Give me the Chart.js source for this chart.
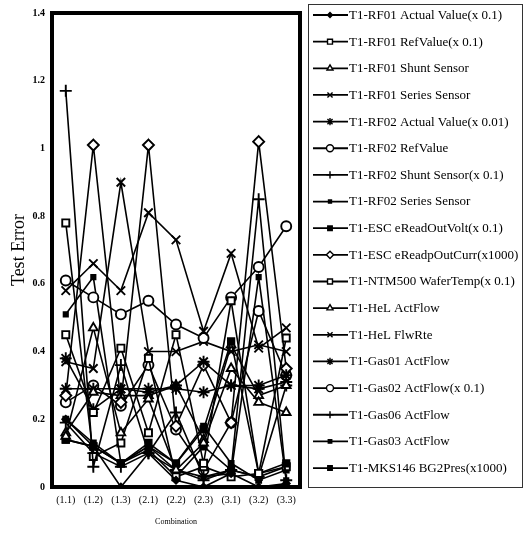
<!DOCTYPE html>
<html>
<head>
<meta charset="utf-8">
<script src="https://cdn.jsdelivr.net/npm/chart.js@4.4.1/dist/chart.umd.min.js"></script>
<style>
html,body{margin:0;padding:0;background:#fff;}
#wrap{width:531px;height:539px;position:relative;}
</style>
</head>
<body>
<div id="wrap"><canvas id="c" width="531" height="539"></canvas></div>
<script>
const categories = ["(1.1)","(1.2)","(1.3)","(2.1)","(2.2)","(2.3)","(3.1)","(3.2)","(3.3)"];
const yTicks = [0, 0.2, 0.4, 0.6, 0.8, 1, 1.2, 1.4];
const seriesNames = [
  "T1-RF01 Actual Value(x 0.1)",
  "T1-RF01 RefValue(x 0.1)",
  "T1-RF01 Shunt Sensor",
  "T1-RF01 Series Sensor",
  "T1-RF02 Actual Value(x 0.01)",
  "T1-RF02 RefValue",
  "T1-RF02 Shunt Sensor(x 0.1)",
  "T1-RF02 Series Sensor",
  "T1-ESC eReadOutVolt(x 0.1)",
  "T1-ESC eReadpOutCurr(x1000)",
  "T1-NTM500 WaferTemp(x 0.1)",
  "T1-HeL ActFlow",
  "T1-HeL FlwRte",
  "T1-Gas01 ActFlow",
  "T1-Gas02 ActFlow(x 0.1)",
  "T1-Gas06 ActFlow",
  "T1-Gas03 ActFlow",
  "T1-MKS146 BG2Pres(x1000)"
];
const rf01Actual   = [0.20, 0.12, 0.00, 0.10, 0.02, 0.00, 0.04, 0.00, 0.01];
const rf01Ref      = [0.45, 0.22, 0.41, 0.16, 0.45, 0.07, 0.55, 0.04, 0.44];
const rf01Shunt    = [0.15, 0.47, 0.16, 0.26, 0.05, 0.13, 0.35, 0.25, 0.22];
const rf01Series   = [0.58, 0.66, 0.58, 0.81, 0.73, 0.46, 0.69, 0.41, 0.47];
const rf02Actual   = [0.38, 0.23, 0.29, 0.28, 0.30, 0.37, 0.30, 0.30, 0.33];
const rf02Ref      = [0.61, 0.56, 0.51, 0.55, 0.48, 0.44, 0.56, 0.65, 0.77];
const rf02Shunt    = [1.17, 0.06, 0.36, 0.10, 0.22, 0.03, 0.05, 0.85, 0.02];
const rf02Series   = [0.51, 0.62, 0.07, 0.12, 0.05, 0.03, 0.04, 0.62, 0.02];
const escVolt      = [0.14, 0.12, 0.07, 0.13, 0.07, 0.17, 0.43, 0.04, 0.07];
const escCurr      = [0.27, 1.01, 0.25, 1.01, 0.18, 0.36, 0.19, 1.02, 0.35];
const ntmWaferTemp = [0.78, 0.09, 0.13, 0.38, 0.03, 0.06, 0.03, 0.04, 0.06];
const helActFlow   = [0.16, 0.28, 0.27, 0.27, 0.30, 0.14, 0.42, 0.27, 0.30];
const helFlwRte    = [0.37, 0.35, 0.90, 0.40, 0.40, 0.43, 0.40, 0.42, 0.40];
const gas01        = [0.29, 0.29, 0.29, 0.29, 0.29, 0.28, 0.30, 0.29, 0.31];
const gas02        = [0.25, 0.30, 0.24, 0.36, 0.17, 0.05, 0.19, 0.52, 0.33];
const gas06        = [0.19, 0.10, 0.06, 0.10, 0.05, 0.02, 0.05, 0.03, 0.30];
const gas03        = [0.20, 0.13, 0.07, 0.12, 0.07, 0.18, 0.07, 0.02, 0.05];
const mks146       = [0.14, 0.12, 0.07, 0.11, 0.03, 0.12, 0.05, 0.03, 0.06];

const seriesValues = [rf01Actual, rf01Ref, rf01Shunt, rf01Series, rf02Actual, rf02Ref, rf02Shunt, rf02Series,
  escVolt, escCurr, ntmWaferTemp, helActFlow, helFlwRte, gas01, gas02, gas06, gas03, mks146];

// marker styles: [pointStyle, radius, filled]
const markers = [
  ['rectRot', 3.5, true], ['rect', 5, false], ['triangle', 5, false], ['crossRot', 6, false],
  ['star', 6, false], ['circle', 5, false], ['cross', 6, false], ['rect', 3, true],
  ['rect', 4.5, true], ['rectRot', 5.5, false], ['rect', 5, false], ['triangle', 5, false],
  ['crossRot', 6, false], ['star', 6, false], ['circle', 5, false], ['cross', 6, false],
  ['rect', 3.5, true], ['rect', 4.5, true]
];

const datasets = seriesNames.map((name, i) => ({
  label: name,
  data: seriesValues[i],
  borderColor: '#000',
  borderWidth: 1.6,
  pointStyle: markers[i][0],
  pointRadius: markers[i][1],
  pointBorderWidth: 1.9,
  pointBorderColor: '#000',
  pointBackgroundColor: markers[i][2] ? '#000' : '#fff',
  tension: 0,
  fill: false
}));

const framePlugin = {
  id: 'frame',
  afterDatasetsDraw(chart) {
    const {ctx, chartArea: a} = chart;
    ctx.save();
    ctx.strokeStyle = '#000';
    ctx.lineWidth = 4;
    ctx.strokeRect(a.left, a.top, a.right - a.left, a.bottom - a.top);
    ctx.restore();
  }
};

const legendPlugin = {
  id: 'boxLegend',
  afterDraw(chart) {
    const ctx = chart.ctx;
    ctx.save();
    ctx.strokeStyle = '#333';
    ctx.lineWidth = 1;
    ctx.strokeRect(308.5, 4.5, 214, 483);
    chart.data.datasets.forEach((ds, i) => {
      const y = 15 + i * 26.65;
      ctx.strokeStyle = '#000';
      ctx.lineWidth = 1.8;
      ctx.beginPath();
      ctx.moveTo(313, y);
      ctx.lineTo(348, y);
      ctx.stroke();
      ctx.fillStyle = ds.pointBackgroundColor;
      ctx.strokeStyle = '#000';
      ctx.lineWidth = 1.4;
      Chart.helpers.drawPoint(ctx, {pointStyle: ds.pointStyle, rotation: 0, radius: Math.min(ds.pointRadius * 0.7, 3.6), borderWidth: 1.4}, 330, y);
      ctx.fillStyle = '#000';
      ctx.font = '13px "Liberation Serif", "Times New Roman", serif';
      ctx.textBaseline = 'middle';
      ctx.textAlign = 'left';
      ctx.fillText(ds.label, 349, y + 0.5);
    });
    ctx.restore();
  }
};

new Chart(document.getElementById('c'), {
  type: 'line',
  data: { labels: categories, datasets },
  options: {
    responsive: false,
    animation: false,
    events: [],
    layout: { padding: { top: 8, right: 231, bottom: 0, left: 0 } },
    plugins: { legend: { display: false }, tooltip: { enabled: false } },
    scales: {
      x: {
        offset: true,
        grid: { display: false, drawTicks: false },
        border: { display: false },
        ticks: { color: '#000', padding: 7, maxRotation: 0, autoSkip: false,
          font: { family: '"Liberation Serif", serif', size: 10 } },
        title: { display: true, text: 'Combination', color: '#000',
          font: { family: '"Liberation Serif", serif', size: 8 }, padding: { top: 0, bottom: 12 } },
        afterFit(s) { s.height = 52; }
      },
      y: {
        min: 0, max: 1.4,
        grid: { display: false, drawTicks: false },
        border: { display: false },
        afterBuildTicks(s) { s.ticks = yTicks.map(v => ({ value: v })); },
        ticks: { color: '#000', padding: 7,
          font: { family: '"Liberation Serif", serif', size: 10, weight: 'bold' },
          callback: v => String(v) },
        title: { display: true, text: 'Test Error', color: '#000',
          font: { family: '"Liberation Serif", serif', size: 18 }, padding: { top: 8, bottom: 0 } },
        afterFit(s) { s.width = 52; }
      }
    }
  },
  plugins: [framePlugin, legendPlugin]
});
</script>
</body>
</html>
